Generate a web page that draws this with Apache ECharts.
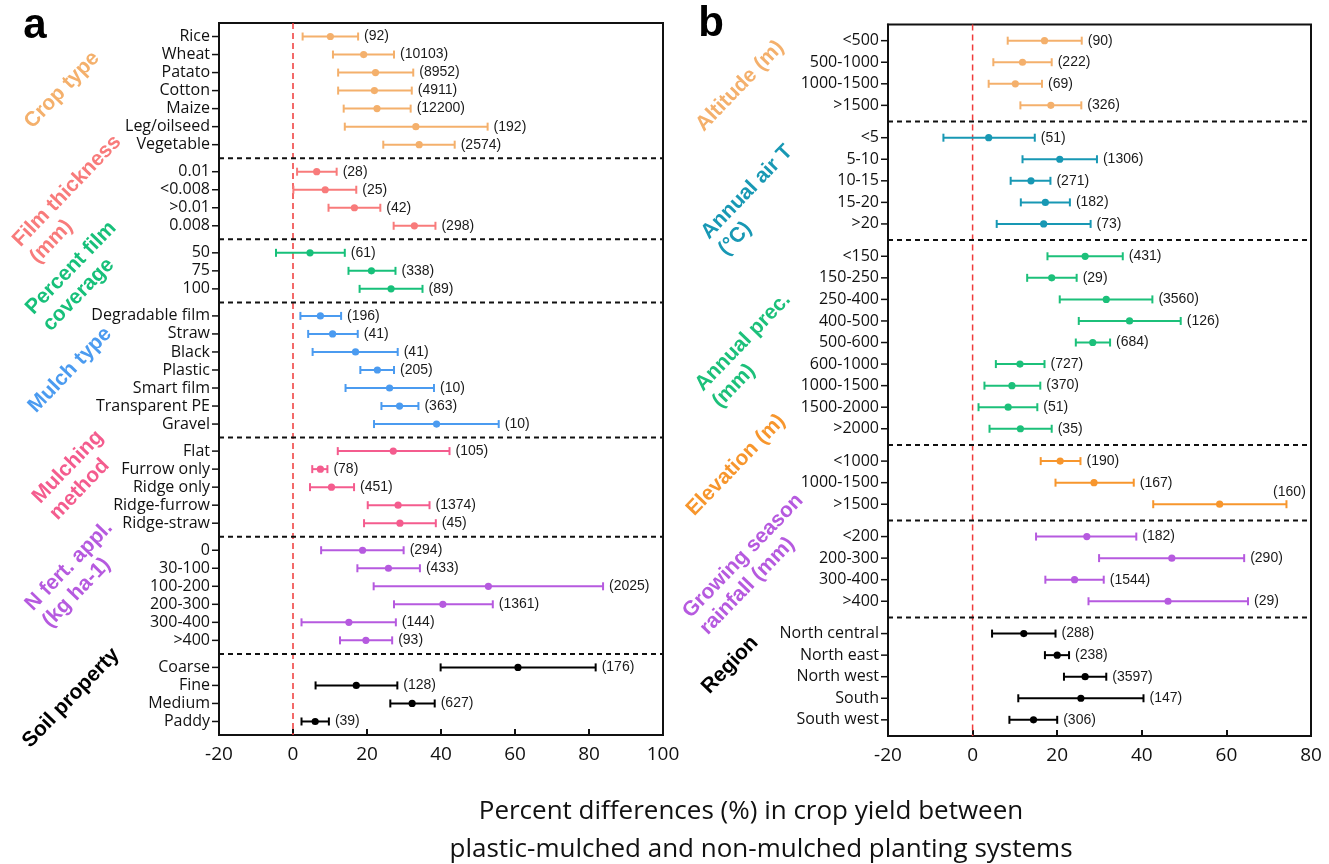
<!DOCTYPE html>
<html>
<head>
<meta charset="utf-8">
<script src="https://cdn.jsdelivr.net/npm/echarts@6/dist/echarts.min.js"></script>
<style>
html,body{margin:0;padding:0;background:#fff;}
#chart{width:1329px;height:864px;}
</style>
</head>
<body>
<div id="chart"></div>
<script>
// ---- Data: [label, lower CI, mean, upper CI, n] ----
// Panel a
const cropType = [
  ['Rice', 2.6, 10.1, 17.6, 92],
  ['Wheat', 10.8, 19.1, 27.3, 10103],
  ['Patato', 12.2, 22.3, 32.5, 8952],
  ['Cotton', 12.2, 22.0, 32.1, 4911],
  ['Maize', 13.7, 22.7, 31.8, 12200],
  ['Leg/oilseed', 14.0, 33.2, 52.6, 192],
  ['Vegetable', 24.4, 34.1, 43.7, 2574]
];
const filmThickness = [
  ['0.01', 1.1, 6.4, 11.8, 28],
  ['<0.008', 0.1, 8.7, 17.1, 25],
  ['>0.01', 9.6, 16.6, 23.6, 42],
  ['0.008', 27.2, 32.8, 38.5, 298]
];
const filmCoverage = [
  ['50', -4.6, 4.6, 14.0, 61],
  ['75', 15.0, 21.2, 27.7, 338],
  ['100', 18.0, 26.5, 35.0, 89]
];
const mulchType = [
  ['Degradable film', 2.0, 7.4, 13.0, 196],
  ['Straw', 4.1, 10.7, 17.5, 41],
  ['Black', 5.3, 16.9, 28.3, 41],
  ['Plastic', 18.2, 22.8, 27.3, 205],
  ['Smart film', 14.2, 26.1, 38.1, 10],
  ['Transparent PE', 23.9, 28.8, 33.9, 363],
  ['Gravel', 21.9, 38.8, 55.6, 10]
];
const mulchMethod = [
  ['Flat', 12.1, 27.1, 42.3, 105],
  ['Furrow only', 5.2, 7.4, 9.3, 78],
  ['Ridge only', 4.6, 10.4, 16.5, 451],
  ['Ridge-furrow', 20.2, 28.4, 36.9, 1374],
  ['Ridge-straw', 19.2, 28.9, 38.6, 45]
];
const nFert = [
  ['0', 7.6, 18.8, 29.9, 294],
  ['30-100', 17.4, 25.8, 34.3, 433],
  ['100-200', 21.8, 52.8, 83.8, 2025],
  ['200-300', 27.3, 40.5, 54.0, 1361],
  ['300-400', 2.3, 15.1, 27.8, 144],
  ['>400', 12.7, 19.7, 26.8, 93]
];
const soilProperty = [
  ['Coarse', 39.9, 60.8, 81.8, 176],
  ['Fine', 6.1, 17.1, 28.2, 128],
  ['Medium', 26.3, 32.2, 38.3, 627],
  ['Paddy', 2.3, 6.0, 9.7, 39]
];
// Panel b
const altitude = [
  ['<500', 8.3, 17.0, 25.8, 90],
  ['500-1000', 4.9, 11.8, 18.7, 222],
  ['1000-1500', 3.8, 10.1, 16.4, 69],
  ['>1500', 11.3, 18.5, 25.7, 326]
];
const airT = [
  ['<5', -6.9, 3.8, 14.7, 51],
  ['5-10', 11.8, 20.6, 29.4, 1306],
  ['10-15', 9.0, 13.8, 18.4, 271],
  ['15-20', 11.4, 17.2, 23.0, 182],
  ['>20', 5.7, 16.8, 27.9, 73]
];
const annualPrec = [
  ['<150', 17.7, 26.6, 35.5, 431],
  ['150-250', 12.9, 18.7, 24.6, 29],
  ['250-400', 20.6, 31.6, 42.5, 3560],
  ['400-500', 25.1, 37.1, 49.2, 126],
  ['500-600', 24.4, 28.4, 32.5, 684],
  ['600-1000', 5.5, 11.2, 17.0, 727],
  ['1000-1500', 2.8, 9.3, 16.0, 370],
  ['1500-2000', 1.4, 8.4, 15.3, 51],
  ['>2000', 4.0, 11.3, 18.7, 35]
];
const elevation = [
  ['<1000', 16.1, 20.7, 25.5, 190],
  ['1000-1500', 19.6, 28.7, 38.1, 167],
  ['>1500', 42.7, 58.4, 74.2, 160]
];
const gsRainfall = [
  ['<200', 15.0, 27.0, 38.7, 182],
  ['200-300', 29.9, 47.1, 64.2, 290],
  ['300-400', 17.2, 24.1, 31.0, 1544],
  ['>400', 27.4, 46.2, 65.1, 29]
];
const region = [
  ['North central', 4.6, 12.1, 19.6, 288],
  ['North east', 17.1, 20.0, 22.8, 238],
  ['North west', 21.6, 26.6, 31.6, 3597],
  ['South', 10.8, 25.6, 40.4, 147],
  ['South west', 8.7, 14.4, 20.0, 306]
];

// Group names and colours
const groupNamesA = [['Crop type'], ['Film thickness', '(mm)'], ['Percent film', 'coverage'], ['Mulch type'], ['Mulching', 'method'], ['N fert. appl.', '(kg ha-1)'], ['Soil property']];
const groupColorsA = ['#F4B06C', '#F87B7B', '#17C07A', '#4B9BF0', '#F45C8E', '#B65ADF', '#000000'];
const groupNamesB = [['Altitude (m)'], ['Annual air T', '(°C)'], ['Annual prec.', '(mm)'], ['Elevation (m)'], ['Growing season', 'rainfall (mm)'], ['Region']];
const groupColorsB = ['#F4B06C', '#1898B4', '#1CC07A', '#F7962D', '#B65ADF', '#000000'];
const xTicksA = [-20, 0, 20, 40, 60, 80, 100];
const xTicksB = [-20, 0, 20, 40, 60, 80];
const xTitleLines = ['Percent differences (%) in crop yield between', 'plastic-mulched and non-mulched planting systems'];

const groupsA = [cropType, filmThickness, filmCoverage, mulchType, mulchMethod, nFert, soilProperty];
const groupsB = [altitude, airT, annualPrec, elevation, gsRainfall, region];

// Build half-row slot categories: rows 2 slots apart, groups 3 slots apart
function buildPanel(groups) {
  const cats = [''];
  const rowsByGroup = [];
  const seps = [];
  groups.forEach((g, gi) => {
    const rows = [];
    g.forEach((r, ri) => {
      if (ri === 0 && gi > 0) { seps.push([cats.length - 1]); cats.push('', ''); }
      else if (ri > 0) cats.push('');
      const idx = cats.length;
      cats.push(r[0]);
      rows.push([r[1], r[2], r[3], idx, r[4]]);
    });
    rowsByGroup.push(rows);
  });
  cats.push('');
  return { cats, rowsByGroup, seps };
}
const pA = buildPanel(groupsA);
const pB = buildPanel(groupsB);

const LABEL_FONT = '"Open Sans", "DejaVu Sans", sans-serif';
const NUM_FONT = '"Liberation Sans", Arial, sans-serif';

function errSeries(rows, color, gridIdx) {
  return {
    type: 'custom', xAxisIndex: gridIdx, yAxisIndex: gridIdx, clip: false, z: 5,
    data: rows,
    renderItem: function (params, api) {
      const yi = api.value(3);
      const lo = api.coord([api.value(0), yi]);
      const md = api.coord([api.value(1), yi]);
      const hi = api.coord([api.value(2), yi]);
      const cap = 4;
      const cs = params.coordSys;
      const txt = '(' + api.value(4) + ')';
      const estW = txt.length * 7.8;
      let tx = hi[0] + 6, ty = hi[1], ta = 'left';
      if (tx + estW > cs.x + cs.width) { tx = hi[0] + 3; ty = hi[1] - 12; ta = 'center'; }
      const st = { stroke: color, lineWidth: 2 };
      return {
        type: 'group',
        children: [
          // y-axis tick for this row (outside, left of the axis)
          { type: 'line', shape: { x1: cs.x - 7, y1: md[1], x2: cs.x, y2: md[1] }, style: { stroke: '#111', lineWidth: 1.5 } },
          { type: 'line', shape: { x1: lo[0], y1: lo[1], x2: hi[0], y2: hi[1] }, style: st },
          { type: 'line', shape: { x1: lo[0], y1: lo[1] - cap, x2: lo[0], y2: lo[1] + cap }, style: st },
          { type: 'line', shape: { x1: hi[0], y1: hi[1] - cap, x2: hi[0], y2: hi[1] + cap }, style: st },
          { type: 'circle', shape: { cx: md[0], cy: md[1], r: 3.6 }, style: { fill: color } },
          { type: 'text', x: tx, y: ty, style: { text: txt, fill: '#1a1a1a', font: '14px ' + NUM_FONT, textAlign: ta, textVerticalAlign: 'middle' } }
        ]
      };
    }
  };
}

function sepSeries(seps, gridIdx) {
  return {
    type: 'custom', xAxisIndex: gridIdx, yAxisIndex: gridIdx, z: 3,
    data: seps.map(s => [0, s[0]]),
    encode: { x: 0, y: 1 },
    renderItem: function (params, api) {
      const c = api.coord([api.value(0), api.value(1)]);
      const bh = api.size([0, 1])[1];
      const y = c[1] + 1.5 * bh;
      const cs = params.coordSys;
      return { type: 'line', shape: { x1: cs.x, y1: y, x2: cs.x + cs.width, y2: y },
        style: { stroke: '#111', lineWidth: 2, lineDash: [5, 4] } };
    }
  };
}

function zeroSeries(gridIdx) {
  return {
    type: 'custom', xAxisIndex: gridIdx, yAxisIndex: gridIdx, z: 2,
    data: [[0, 0]],
    encode: { x: 0, y: 1 },
    renderItem: function (params, api) {
      const c = api.coord([api.value(0), api.value(1)]);
      const cs = params.coordSys;
      return { type: 'line', shape: { x1: c[0], y1: cs.y, x2: c[0], y2: cs.y + cs.height },
        style: { stroke: '#F03A3A', lineWidth: 1.5, lineDash: [6, 4] } };
    }
  };
}

function xAxis(gridIdx, ticks) {
  return {
    type: 'value', gridIndex: gridIdx, min: ticks[0], max: ticks[ticks.length - 1],
    interval: ticks[1] - ticks[0],
    axisLine: { show: true, onZero: false, lineStyle: { color: '#111', width: 2 } },
    axisTick: { show: true, inside: true, length: 6, lineStyle: { color: '#111', width: 2 } },
    axisLabel: { color: '#111', fontSize: 19, fontFamily: LABEL_FONT, margin: 10 },
    splitLine: { show: false }
  };
}
function yAxis(gridIdx, cats) {
  return {
    type: 'category', gridIndex: gridIdx, data: cats, inverse: true, boundaryGap: true,
    axisLine: { show: true, onZero: false, lineStyle: { color: '#111', width: 2 } },
    axisTick: { show: false },
    axisLabel: { interval: 0, color: '#111', fontSize: 16, fontFamily: LABEL_FONT, margin: 9 },
    splitLine: { show: false }
  };
}

const series = [];
series.push(zeroSeries(0), sepSeries(pA.seps, 0));
pA.rowsByGroup.forEach((rows, i) => series.push(errSeries(rows, groupColorsA[i], 0)));
series.push(zeroSeries(1), sepSeries(pB.seps, 1));
pB.rowsByGroup.forEach((rows, i) => series.push(errSeries(rows, groupColorsB[i], 1)));

// Rotated group titles: centre of the first line; further lines left-aligned below it
const titlePosA = [[62, 90], [67, 191], [71, 268], [70, 370], [68, 467], [69, 566], [71, 698]];
const titlePosB = [[740, 86], [747, 192], [743, 342], [736, 465], [743, 556], [730, 665]];
const TITLE_ROT = 46 * Math.PI / 180;
const TITLE_FONT = 'bold 21px "Liberation Sans", Arial, sans-serif';
const TITLE_LH = 24;
const measureCtx = document.createElement('canvas').getContext('2d');
measureCtx.font = TITLE_FONT;
const graphics = [];
function addTitles(names, colors, pos) {
  const dx = Math.cos(TITLE_ROT), dy = -Math.sin(TITLE_ROT);   // along text
  const px = Math.sin(TITLE_ROT), py = Math.cos(TITLE_ROT);    // next line direction
  names.forEach((lines, i) => {
    const w1 = measureCtx.measureText(lines[0]).width;
    const sx = pos[i][0] - dx * w1 / 2, sy = pos[i][1] - dy * w1 / 2;
    lines.forEach((ln, k) => {
      graphics.push({
        type: 'text', x: sx + px * TITLE_LH * k, y: sy + py * TITLE_LH * k, rotation: TITLE_ROT,
        style: { text: ln, fill: colors[i], font: TITLE_FONT, textAlign: 'left', textVerticalAlign: 'middle' }
      });
    });
  });
}
addTitles(groupNamesA, groupColorsA, titlePosA);
addTitles(groupNamesB, groupColorsB, titlePosB);
graphics.push({ type: 'text', x: 35, y: 26, style: { text: 'a', fill: '#000', font: 'bold 42px "Liberation Sans", Arial, sans-serif', textAlign: 'center', textVerticalAlign: 'middle' } });
graphics.push({ type: 'text', x: 711, y: 24, style: { text: 'b', fill: '#000', font: 'bold 42px "Liberation Sans", Arial, sans-serif', textAlign: 'center', textVerticalAlign: 'middle' } });
graphics.push({ type: 'text', x: 751, y: 812, style: { text: xTitleLines[0], fill: '#111', font: '26px ' + LABEL_FONT, textAlign: 'center', textVerticalAlign: 'middle' } });
graphics.push({ type: 'text', x: 761, y: 850, style: { text: xTitleLines[1], fill: '#111', font: '26px ' + LABEL_FONT, textAlign: 'center', textVerticalAlign: 'middle' } });

const chart = echarts.init(document.getElementById('chart'), null, { renderer: 'canvas' });
chart.setOption({
  animation: false,
  backgroundColor: '#fff',
  grid: [
    { left: 219, top: 23, width: 444, height: 712, show: true, borderColor: '#111', borderWidth: 2, backgroundColor: 'transparent' },
    { left: 888, top: 24.5, width: 423, height: 711.5, show: true, borderColor: '#111', borderWidth: 2, backgroundColor: 'transparent' }
  ],
  xAxis: [xAxis(0, xTicksA), xAxis(1, xTicksB)],
  yAxis: [yAxis(0, pA.cats), yAxis(1, pB.cats)],
  series: series,
  graphic: graphics
});
</script>
</body>
</html>
